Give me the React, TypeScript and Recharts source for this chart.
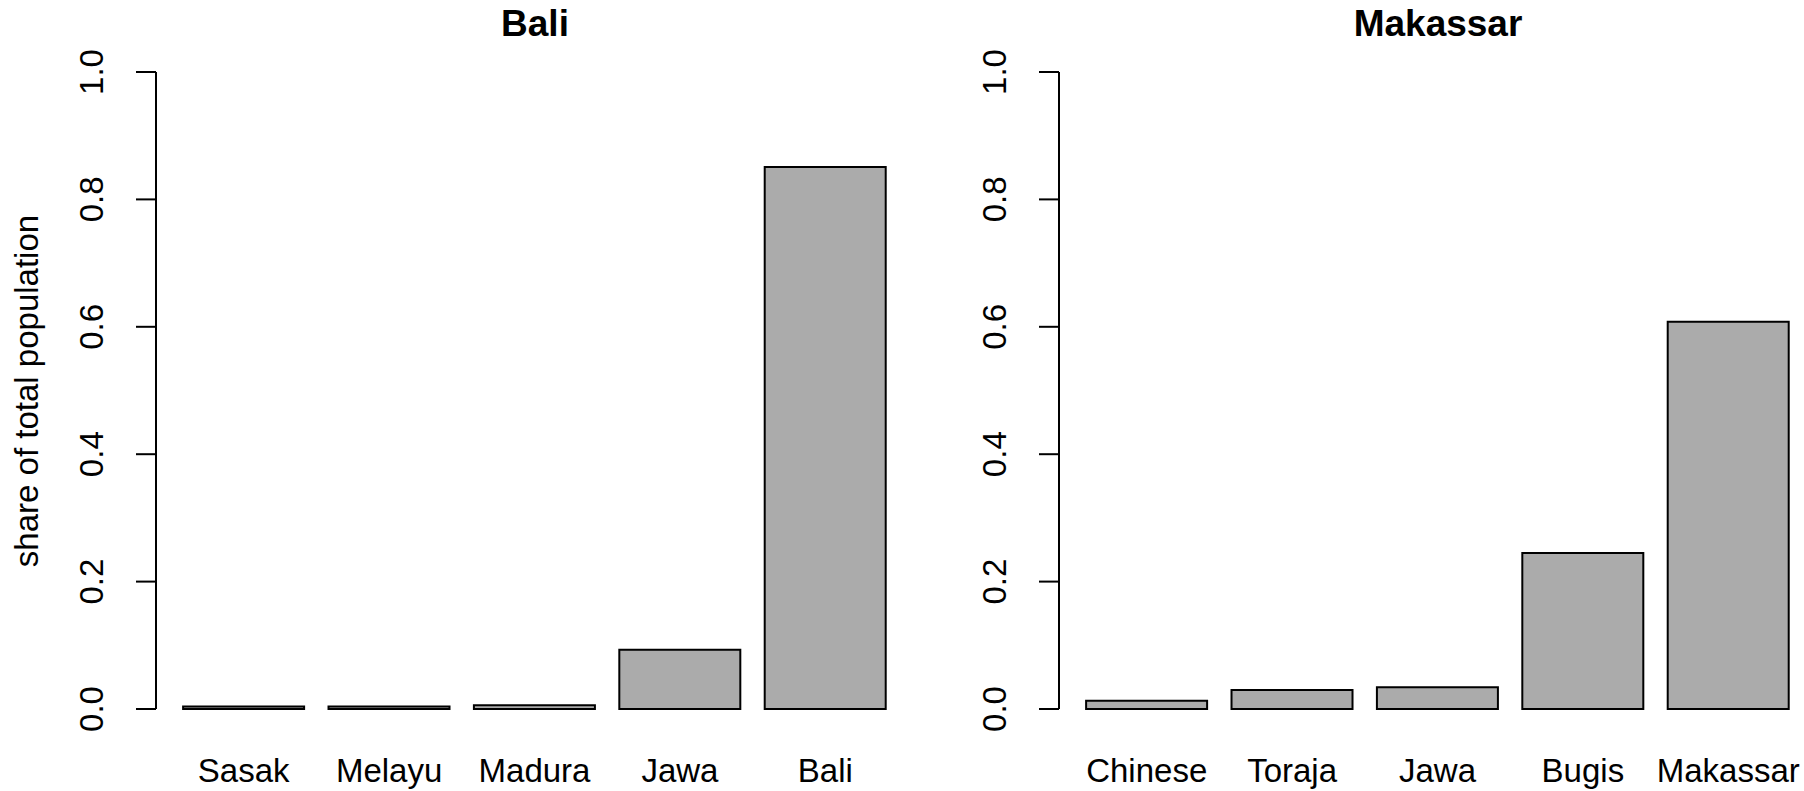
import React from "react";
import { BarChart, Bar, XAxis, YAxis, Label } from "recharts";

const baliGroups = ["Sasak", "Melayu", "Madura", "Jawa", "Bali"];
const baliShares = [0.004, 0.004, 0.006, 0.093, 0.851];

const makassarGroups = ["Chinese", "Toraja", "Jawa", "Bugis", "Makassar"];
const makassarShares = [0.013, 0.03, 0.034, 0.245, 0.608];

const yTicks = [0, 0.2, 0.4, 0.6, 0.8, 1.0];

const FONT = "'Liberation Sans', Arial, Helvetica, sans-serif";
const PANEL_W = 902;
const PANEL_H = 791;

function XTick(props: any) {
  const { x, payload } = props;
  return (
    <text x={x} y={782} textAnchor="middle" fontSize={33} fontFamily={FONT} fill="#000">
      {payload.value}
    </text>
  );
}

function YTick(props: any) {
  const { y, payload } = props;
  return (
    <text
      x={103}
      y={y}
      transform={`rotate(-90, 103, ${y})`}
      textAnchor="middle"
      fontSize={33}
      fontFamily={FONT}
      fill="#000"
    >
      {Number(payload.value).toFixed(1)}
    </text>
  );
}

function YTitle() {
  return (
    <text
      x={38}
      y={391}
      transform="rotate(-90, 38, 391)"
      textAnchor="middle"
      fontSize={33}
      fontFamily={FONT}
      fill="#000"
    >
      share of total population
    </text>
  );
}

interface PanelProps {
  title: string;
  groups: string[];
  shares: number[];
  left: number;
  withYTitle?: boolean;
}

function Panel({ title, groups, shares, left, withYTitle }: PanelProps) {
  const data = groups.map((g, i) => ({ group: g, share: shares[i] }));
  return (
    <div style={{ position: "absolute", left, top: 0, width: PANEL_W, height: PANEL_H }}>
      <BarChart
        width={PANEL_W}
        height={PANEL_H}
        data={data}
        margin={{ top: 72, right: 4, bottom: 0, left: 0 }}
        barCategoryGap="8.33%"
      >
        <XAxis
          dataKey="group"
          axisLine={false}
          tickLine={false}
          height={82}
          padding={{ left: 15, right: 0 }}
          interval={0}
          tick={<XTick />}
        />
        <YAxis
          type="number"
          domain={[0, 1]}
          ticks={yTicks}
          interval={0}
          width={156}
          tickSize={20}
          axisLine={{ stroke: "#000", strokeWidth: 2 }}
          tickLine={{ stroke: "#000", strokeWidth: 2 }}
          tick={<YTick />}
        >
          {withYTitle && <Label content={<YTitle />} />}
        </YAxis>
        <Bar
          dataKey="share"
          fill="#ABABAB"
          stroke="#000"
          strokeWidth={2}
          isAnimationActive={false}
        />
      </BarChart>
      <div
        style={{
          position: "absolute",
          left: 335,
          top: 3,
          width: 400,
          textAlign: "center",
          fontFamily: FONT,
          fontWeight: "bold",
          fontSize: 37,
          lineHeight: "42px",
          color: "#000",
        }}
      >
        {title}
      </div>
    </div>
  );
}

export default function App() {
  return (
    <div
      style={{
        position: "absolute",
        left: 0,
        top: 0,
        width: 1804,
        height: 791,
        background: "#fff",
        overflow: "hidden",
      }}
    >
      <Panel title="Bali" groups={baliGroups} shares={baliShares} left={0} withYTitle />
      <Panel title="Makassar" groups={makassarGroups} shares={makassarShares} left={903} />
    </div>
  );
}
